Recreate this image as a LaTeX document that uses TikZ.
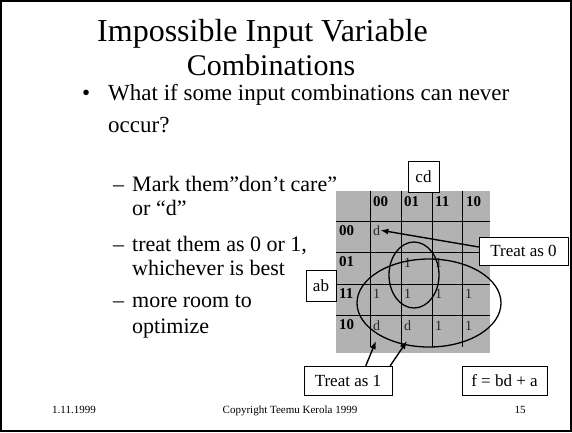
\documentclass[tikz,border=0pt]{standalone}
\usepackage{fontspec}
\setmainfont{Liberation Serif}
\usetikzlibrary{arrows.meta,positioning,calc}

\begin{document}
\begin{tikzpicture}[
  x=1pt, y=-1pt,
  box/.style={draw, fill=white, inner sep=0pt, font=\fontsize{17}{17}\selectfont},
  arr/.style={-{Latex[length=8pt,width=6pt]}, line width=1.4pt},
  txt/.style={anchor=base west, inner sep=0pt},
  hd/.style={anchor=base west, inner sep=0pt, font=\fontsize{15}{15}\selectfont\bfseries},
  val/.style={anchor=base west, inner sep=0pt, text=black!85, font=\fontsize{14}{14}\selectfont},
  ring/.style={draw, line width=1.3pt}
]
  \useasboundingbox (0,0) rectangle (572,432);
  \draw[line width=2pt] (1,1) rectangle (571,431);

  % title and bullets
  \node[txt, font=\fontsize{32}{32}\selectfont] (title1) at (97,41) {Impossible Input Variable};
  \node[anchor=base, inner sep=0pt, font=\fontsize{30}{30}\selectfont] (title2) at (271,75) {Combinations};
  \node[txt, font=\fontsize{23}{23}\selectfont] (dot) at (82,100) {•};
  \node[txt, font=\fontsize{23}{23}\selectfont] (l1a) at (108,100) {What if some input combinations can never};
  \node[txt, font=\fontsize{23}{23}\selectfont] (l1b) at (108,132) {occur?};
  \begin{scope}[every node/.style={txt, font=\fontsize{22}{22}\selectfont}]
    \node (d1) at (113,191) {–};
    \node (l2a) at (132,191) {Mark them”don’t care”};
    \node (l2b) at (132,215) {or “d”};
    \node (d2) at (113,251) {–};
    \node (l2c) at (132,251) {treat them as 0 or 1,};
    \node (l2d) at (132,275) {whichever is best};
    \node (d3) at (113,307) {–};
    \node (l2e) at (132,307) {more room to};
    \node (l2f) at (132,333) {optimize};
  \end{scope}

  % Karnaugh map
  \fill[black!30] (336,191) rectangle (490,353);
  \foreach \x in {370,401,432,462} \draw (\x,191) -- (\x,347);
  \foreach \y in {221,252,284,315} \draw (336,\y) -- (490,\y);
  \foreach \lab [count=\i] in {00,01,11,10} {
    \node[hd] (col\i) at ({373+31*(\i-1)},206) {\lab};
    \node[hd] (row\i) at (339,{235+31.5*(\i-1)}) {\lab};
  }
  \node[val] (m11) at (373,235) {d};
  \node[val] (m22) at (404,267) {1};
  \node[val] (m23) at (435,267) {1};
  \node[val] (m31) at (373,298) {1};
  \node[val] (m32) at (404,298) {1};
  \node[val] (m33) at (435,298) {1};
  \node[val] (m34) at (465,298) {1};
  \node[val] (m41) at (373,330) {d};
  \node[val] (m42) at (404,330) {d};
  \node[val] (m43) at (435,330) {1};
  \node[val] (m44) at (465,330) {1};

  \draw[ring] (414,275) ellipse [x radius=25, y radius=33];
  \draw[ring] (429,303) ellipse [x radius=72, y radius=44];

  % labels
  \node[box, minimum width=31pt, minimum height=31pt] (cd) at (423.5,176.5) {cd};
  \node[box, minimum width=30pt, minimum height=31pt] (ab) at (321,285.5) {ab};
  \node[box, minimum width=89pt, minimum height=28pt] (zero) at (523.5,251) {Treat as 0};
  \node[box, minimum width=88pt, minimum height=29pt] (one) at (348,380.5) {Treat as 1};
  \node[box, minimum width=85pt, minimum height=29pt] (fn) at (504.5,380.5) {f = bd + a};

  \coordinate (tipA) at (376,341);
  \coordinate (tipB) at (407,341);
  \draw[arr] (zero.west |- 0,247) -- (m11.east);
  \draw[arr] (one.north west) ++(62,0) -- (tipA);
  \draw[arr] (one.north east) ++(-2,0) -- (tipB);

  % footer
  \begin{scope}[every node/.style={anchor=base, inner sep=0pt, font=\fontsize{11}{11}\selectfont}]
    \node (date) at (74,413) {1.11.1999};
    \node (copy) at (290,413) {Copyright Teemu Kerola 1999};
    \node (page) at (520,413) {15};
  \end{scope}
\end{tikzpicture}
\end{document}
